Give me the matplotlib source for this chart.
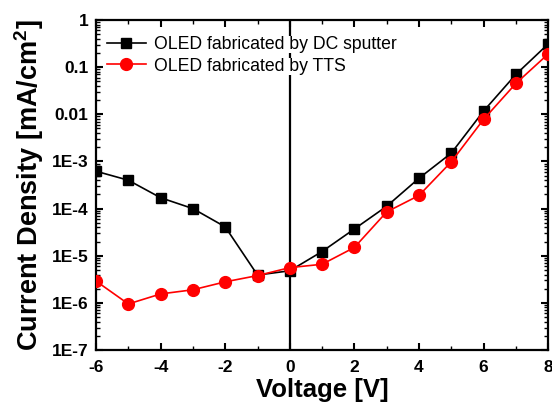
from matplotlib import pyplot as plt
from matplotlib.ticker import LogLocator, NullFormatter, MultipleLocator
import numpy as np

plt.rcParams['font.family'] = ['Liberation Sans', 'DejaVu Sans']
plt.rcParams['axes.unicode_minus'] = False
plt.rcParams['mathtext.fontset'] = 'custom'
plt.rcParams['mathtext.rm'] = 'Liberation Sans'
plt.rcParams['mathtext.bf'] = 'Liberation Sans:bold'

'''Data read from the J-V plot'''
voltage = [-6, -5, -4, -3, -2, -1, 0, 1, 2, 3, 4, 5, 6, 7, 8]
j_dc = [6.2e-4, 4.0e-4, 1.7e-4, 1.0e-4, 4.1e-5, 3.9e-6, 4.8e-6, 1.23e-5, 3.7e-5,
        1.12e-4, 4.4e-4, 1.5e-3, 1.17e-2, 0.07, 0.31]
j_tts = [2.9e-6, 9.5e-7, 1.55e-6, 1.9e-6, 2.8e-6, 3.8e-6, 5.6e-6, 6.6e-6, 1.5e-5,
         8.5e-5, 1.9e-4, 9.8e-4, 7.8e-3, 0.045, 0.19]

ytick_vals = [1e-7, 1e-6, 1e-5, 1e-4, 1e-3, 1e-2, 1e-1, 1]
ytick_labels = ["1E-7", "1E-6", "1E-5", "1E-4", "1E-3", "0.01", "0.1", "1"]

fig = plt.figure(figsize=(5.52, 4.08), dpi=100)
ax = fig.add_axes([0.174, 0.142, 0.819, 0.809])

ax.plot(voltage, j_dc, "black", marker="s", markersize=7.5, linewidth=1.2,
        label="OLED fabricated by DC sputter", zorder=3)
ax.plot(voltage, j_tts, "red", marker="o", markersize=8.5, linewidth=1.2,
        label="OLED fabricated by TTS", zorder=4)
ax.axvline(0, color="black", linewidth=1.6, zorder=2)

ax.set_yscale("log")
ax.set_xlim(-6, 8)
ax.set_ylim(1e-7, 1)
ax.set_yticks(ytick_vals)
ax.set_yticklabels(ytick_labels)
ax.yaxis.set_minor_locator(LogLocator(base=10, subs=np.arange(2, 10)))
ax.yaxis.set_minor_formatter(NullFormatter())
ax.xaxis.set_major_locator(MultipleLocator(2))
ax.xaxis.set_minor_locator(MultipleLocator(1))

for s in ax.spines.values():
    s.set_linewidth(1.6)
ax.tick_params(which="both", direction="in", top=True, right=True)
ax.tick_params(which="major", length=5, width=1.5, labelsize=12.5)
ax.tick_params(which="minor", length=3, width=1.0)
ax.tick_params(axis="x", which="major", pad=7)
ax.tick_params(axis="y", which="major", pad=5.5)
for lab in ax.get_xticklabels() + ax.get_yticklabels():
    lab.set_fontweight("bold")

ax.set_xlabel("Voltage [V]", fontsize=18.5, fontweight="bold", labelpad=2)
ax.set_ylabel(r"Current Density $\mathbf{[mA/cm^2]}$", fontsize=19.5, fontweight="bold", labelpad=4)

# legend text boxes are opaque, so the 0 V line is broken behind the text
leg = ax.legend(loc="upper left", bbox_to_anchor=(0.012, 0.967), borderaxespad=0,
                frameon=False, fontsize=12.7, handlelength=2.2,
                borderpad=0.3, labelspacing=0.25, handletextpad=0.5)
leg.set_zorder(5)
for t in leg.get_texts():
    t.set_bbox(dict(facecolor="white", edgecolor="none", pad=0))

plt.savefig("out.png", dpi=100)
